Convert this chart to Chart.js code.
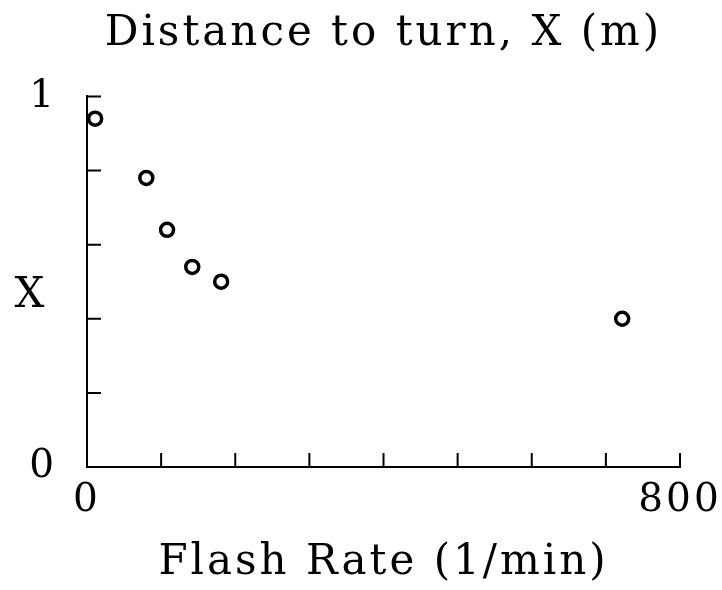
<!DOCTYPE html>
<html lang="en">
<head>
    <meta charset="UTF-8">
    <title>Distance to turn vs flash rate</title>
    <script src="https://cdn.jsdelivr.net/npm/chart.js"></script>
    <style>
        body {
            margin: 0;
            background-color: white;
        }
        #chartContainer {
            width: 722px;
            height: 590px;
        }
    </style>
</head>
<body>

<div id="chartContainer">
    <canvas id="flashChart"></canvas>
</div>

<script>
    // measured points: flash rate (1/min) against distance to turn X (m)
    const flashRate = [11, 80, 108, 142, 181, 722];
    const turnDistance = [0.94, 0.78, 0.64, 0.54, 0.50, 0.40];

    // only the ends of each axis carry a number
    const xTickLabels = { 0: '0', 800: '800' };
    const yTickLabels = { 0: '0', 1: '1' };

    const serif = '"DejaVu Serif", serif';
    const spacing = '3px';

    // wide, typewriter-like lettering; canvas resets drop it, so set it each pass
    const wideText = {
        id: 'wideText',
        beforeLayout(chart) { chart.ctx.letterSpacing = spacing; },
        beforeDraw(chart) { chart.ctx.letterSpacing = spacing; }
    };

    // tick marks point into the plot, so draw them ourselves
    const inwardTicks = {
        id: 'inwardTicks',
        afterDraw(chart) {
            const { ctx, chartArea, scales } = chart;
            const len = 14;
            ctx.save();
            ctx.strokeStyle = 'black';
            ctx.lineWidth = 2;
            ctx.beginPath();
            scales.x.ticks.forEach(t => {
                const px = scales.x.getPixelForValue(t.value);
                if (t.value === 0) return;
                ctx.moveTo(px, chartArea.bottom);
                ctx.lineTo(px, chartArea.bottom - len);
            });
            scales.y.ticks.forEach(t => {
                const py = scales.y.getPixelForValue(t.value);
                if (t.value === 0) return;
                ctx.moveTo(chartArea.left, py);
                ctx.lineTo(chartArea.left + len, py);
            });
            ctx.stroke();

            // upright "X" beside the y axis
            ctx.fillStyle = 'black';
            ctx.font = '42px ' + serif;
            ctx.textAlign = 'center';
            ctx.textBaseline = 'middle';
            ctx.fillText('X', 31, (chartArea.top + chartArea.bottom) / 2 + 14);
            ctx.restore();
        }
    };

    const ctx1 = document.getElementById('flashChart').getContext('2d');
    const chart = new Chart(ctx1, {
        type: 'scatter',
        data: {
            datasets: [{
                label: 'X',
                data: flashRate.map((r, i) => ({ x: r, y: turnDistance[i] })),
                pointStyle: 'circle',
                pointRadius: 6.5,
                pointBorderWidth: 3.5,
                pointBorderColor: 'black',
                pointBackgroundColor: 'white'
            }]
        },
        options: {
            responsive: true,
            maintainAspectRatio: false,
            animation: false,
            layout: {
                padding: 0
            },
            plugins: {
                legend: { display: false },
                tooltip: { enabled: false },
                title: {
                    display: true,
                    fullSize: false,
                    text: 'Distance to turn, X (m)',
                    color: 'black',
                    font: { family: serif, size: 42, weight: 'normal' },
                    padding: { top: 9, bottom: 37 }
                }
            },
            scales: {
                x: {
                    type: 'linear',
                    min: 0,
                    max: 800,
                    afterFit(scale) {
                        scale.height = 123;
                        scale.paddingRight = 42;
                    },
                    ticks: {
                        stepSize: 100,
                        color: 'black',
                        font: { family: serif, size: 39 },
                        padding: 10,
                        maxRotation: 0,
                        autoSkip: false,
                        callback: v => xTickLabels[v] || ''
                    },
                    grid: { display: false, drawTicks: false },
                    border: { display: true, color: 'black', width: 2 },
                    title: {
                        display: true,
                        text: 'Flash Rate (1/min)',
                        color: 'black',
                        font: { family: serif, size: 42 },
                        padding: { top: 0, bottom: 2 }
                    }
                },
                y: {
                    type: 'linear',
                    min: 0,
                    max: 1,
                    afterFit(scale) { scale.width = 87; },
                    ticks: {
                        stepSize: 0.2,
                        color: 'black',
                        font: { family: serif, size: 39 },
                        padding: 30,
                        autoSkip: false,
                        callback: v => yTickLabels[v] || ''
                    },
                    grid: { display: false, drawTicks: false },
                    border: { display: true, color: 'black', width: 2 }
                }
            }
        },
        plugins: [wideText, inwardTicks]
    });
</script>

</body>
</html>
